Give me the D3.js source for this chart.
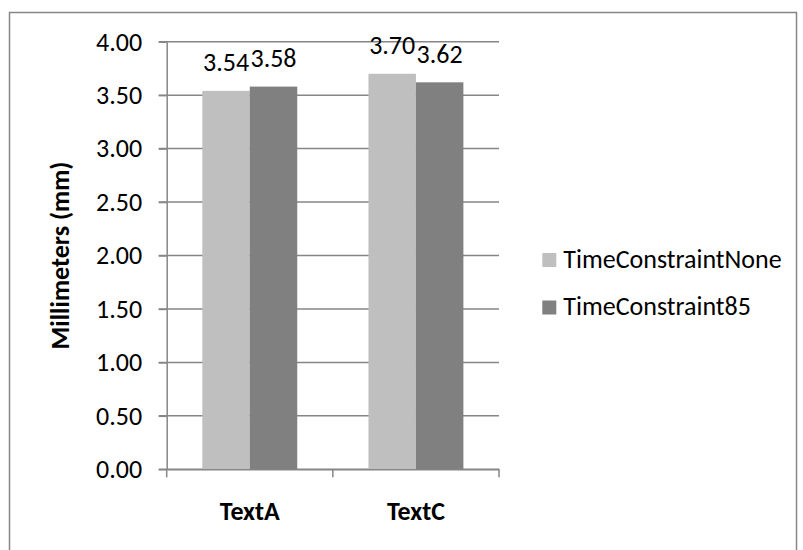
<!DOCTYPE html>
<html>
<head>
<meta charset="utf-8">
<script src="https://cdn.jsdelivr.net/npm/d3@7"></script>
<style>
  html, body { margin: 0; padding: 0; background: #fff; }
  svg { display: block; }
  text { font-family: Carlito, Calibri, Lato, "Open Sans", sans-serif; fill: #000; }
</style>
</head>
<body>
<svg id="chart" width="803" height="550"></svg>
<script>
// ---- data ----
const categories = ["TextA", "TextC"];
const seriesNames = ["TimeConstraintNone", "TimeConstraint85"];
const timeConstraintNone = [3.54, 3.70];
const timeConstraint85 = [3.58, 3.62];
const yTickValues = [0, 0.5, 1, 1.5, 2, 2.5, 3, 3.5, 4];
const yAxisTitle = "Millimeters (mm)";

// ---- layout ----
const svg = d3.select("#chart");
const W = 803, H = 550;
const plot = { left: 166.7, right: 499, top: 41.7, bottom: 469.3 };
const colors = ["#BFBFBF", "#808080"];
const gridColor = "#868686";
const fontSize = 26;

svg.append("rect").attr("width", W).attr("height", H).attr("fill", "#fff");
// outer chart border
svg.append("rect")
  .attr("x", 9.5).attr("y", 12.5)
  .attr("width", 787).attr("height", 600)
  .attr("fill", "none").attr("stroke", "#868686").attr("stroke-width", 1.5);

const y = d3.scaleLinear().domain([0, 4]).range([plot.bottom, plot.top]);
const x0 = d3.scaleBand().domain(categories).range([plot.left, plot.right]).padding(0);
const x1 = d3.scaleBand().domain(seriesNames).range([0, x0.bandwidth()])
  .paddingInner(0).paddingOuter(0.75);

const table = categories.map((c, i) => ({
  category: c,
  values: [
    { series: seriesNames[0], value: timeConstraintNone[i], color: colors[0] },
    { series: seriesNames[1], value: timeConstraint85[i], color: colors[1] }
  ]
}));

// gridlines
svg.append("g").selectAll("line").data(yTickValues).join("line")
  .attr("x1", plot.left - 8).attr("x2", plot.right)
  .attr("y1", d => y(d)).attr("y2", d => y(d))
  .attr("stroke", gridColor).attr("stroke-width", 1.5);

// bars
const groups = svg.append("g").selectAll("g").data(table).join("g")
  .attr("transform", d => `translate(${x0(d.category)},0)`);
groups.selectAll("rect").data(d => d.values).join("rect")
  .attr("x", d => x1(d.series))
  .attr("width", x1.bandwidth())
  .attr("y", d => y(d.value))
  .attr("height", d => y(0) - y(d.value))
  .attr("fill", d => d.color);
// data labels
groups.selectAll("text").data(d => d.values).join("text")
  .attr("x", d => x1(d.series) + x1.bandwidth() / 2)
  .attr("y", d => y(d.value) - 19.5)
  .attr("text-anchor", "middle")
  .attr("font-size", fontSize)
  .text(d => d3.format(".2f")(d.value));

// y axis
const yAxis = svg.append("g").attr("transform", `translate(${plot.left},0)`)
  .call(d3.axisLeft(y).tickValues(yTickValues).tickFormat(d3.format(".2f"))
    .tickSizeInner(8).tickSizeOuter(0).tickPadding(16.5));
yAxis.select(".domain").attr("stroke", gridColor).attr("stroke-width", 1.5);
yAxis.selectAll(".tick line").attr("stroke", gridColor).attr("stroke-width", 1.5);
yAxis.selectAll(".tick text").attr("font-size", fontSize)
  .attr("font-family", null).attr("fill", "#000");

// x axis
const xAxis = svg.append("g").attr("transform", `translate(0,${plot.bottom})`)
  .call(d3.axisBottom(x0).tickSize(0).tickSizeOuter(0).tickPadding(0));
xAxis.select(".domain").attr("stroke", gridColor).attr("stroke-width", 1.5);
xAxis.selectAll(".tick text").attr("font-size", fontSize).attr("font-weight", "bold")
  .attr("font-family", null).attr("fill", "#000")
  .attr("y", 51).attr("dy", null);
// category boundary ticks
const bounds = categories.map(c => x0(c)).concat([x0(categories[categories.length - 1]) + x0.bandwidth()]);
xAxis.selectAll("line.bound").data(bounds).join("line").attr("class", "bound")
  .attr("x1", d => d).attr("x2", d => d).attr("y1", 0).attr("y2", 8)
  .attr("stroke", gridColor).attr("stroke-width", 1.5);

// y axis title
svg.append("text")
  .attr("transform", `translate(69,${(plot.top + plot.bottom) / 2}) rotate(-90)`)
  .attr("text-anchor", "middle")
  .attr("font-size", fontSize).attr("font-weight", "bold")
  .text(yAxisTitle);

// legend
const legend = svg.append("g").selectAll("g").data(seriesNames).join("g")
  .attr("transform", (d, i) => `translate(542.3,${260 + i * 47.5})`);
legend.append("rect").attr("x", 0).attr("y", -7).attr("width", 14).attr("height", 14)
  .attr("fill", (d, i) => colors[i]);
legend.append("text").attr("x", 21).attr("y", 7.5)
  .attr("font-size", fontSize).text(d => d);
</script>
</body>
</html>
